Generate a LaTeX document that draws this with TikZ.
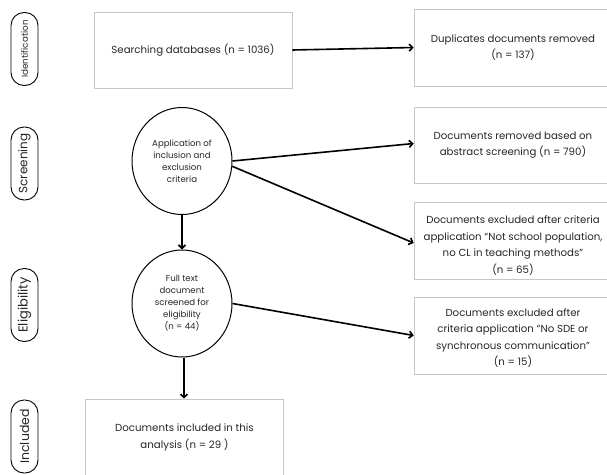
\documentclass[tikz,border=0pt]{standalone}
\usepackage{fontspec}
\setmainfont{Poppins}
\usetikzlibrary{arrows.meta,shapes.geometric}
\begin{document}
\begin{tikzpicture}[x=1pt,y=-1pt,
  box/.style={draw=black!22, line width=0.6pt, minimum width=198pt, minimum height=76pt,
    align=center, font=\fontsize{10.2}{16.5}\selectfont, text=black!85, inner sep=0pt},
  circ/.style={draw=black, line width=1pt, ellipse, minimum width=100pt, minimum height=107pt,
    align=center, font=\fontsize{8.6}{12}\selectfont, text=black!85, inner sep=0pt},
  pill/.style={draw=black, line width=0.9pt, rounded corners=13pt, minimum width=73pt,
    minimum height=27pt, rotate=90, inner sep=0pt, text=black!85},
  arr/.style={-{Straight Barb[length=3.5pt,width=7pt]}, line width=1.6pt}]
\useasboundingbox (0,0) rectangle (607,474);
% stage labels
\node[pill, font=\fontsize{8.8}{9}\selectfont] (p1) at (24.5,49) {Identification};
\node[pill, font=\fontsize{12}{13}\selectfont] (p2) at (24.5,163.5) {Screening};
\node[pill, font=\fontsize{13}{14}\selectfont] (p3) at (24.5,305) {Eligibility};
\node[pill, font=\fontsize{12.5}{13}\selectfont] (p4) at (24.5,436.5) {Included};
% boxes
\node[box] (b1) at (193,50) {Searching databases (n = 1036)};
\node[box, minimum height=77pt] (b2) at (513,47.5) {Duplicates documents removed\\(n = 137)};
\node[box] (b3) at (513,145) {Documents removed based on\\abstract screening (n = 790)};
\node[box, minimum height=77pt] (b4) at (513,240.5) {\rule{0pt}{18pt}Documents excluded after criteria\\application “Not school population,\\no CL in teaching methods”\\(n = 65)};
\node[box, minimum height=77pt] (b5) at (513,335.5) {\rule{0pt}{13pt}Documents excluded after\\criteria application “No SDE or\\synchronous communication”\\(n = 15)};
\node[box, minimum height=77pt] (b6) at (184.5,437.5) {Documents included in this\\analysis (n = 29 )};
% circles
\node[circ] (c1) at (182,161) {Application of\\inclusion and\\exclusion\\criteria};
\node[circ] (c2) at (182,303.5) {Full text\\document\\screened for\\eligibility\\(n = 44)};
% connectors
\draw[arr] (b1.east) -- (b2.west);
\draw[arr] (c1.east) -- ([yshift=1.5pt]b3.west);
\draw[arr] (c1.-6) -- ([yshift=-2.5pt]b4.west);
\draw[arr] (c1.south) -- (c2.north);
\draw[arr] (c2.east) -- (b5.west);
\draw[arr] ([xshift=2pt]c2.south) -- ([xshift=2pt]c2.south |- b6.north);
\end{tikzpicture}
\end{document}
